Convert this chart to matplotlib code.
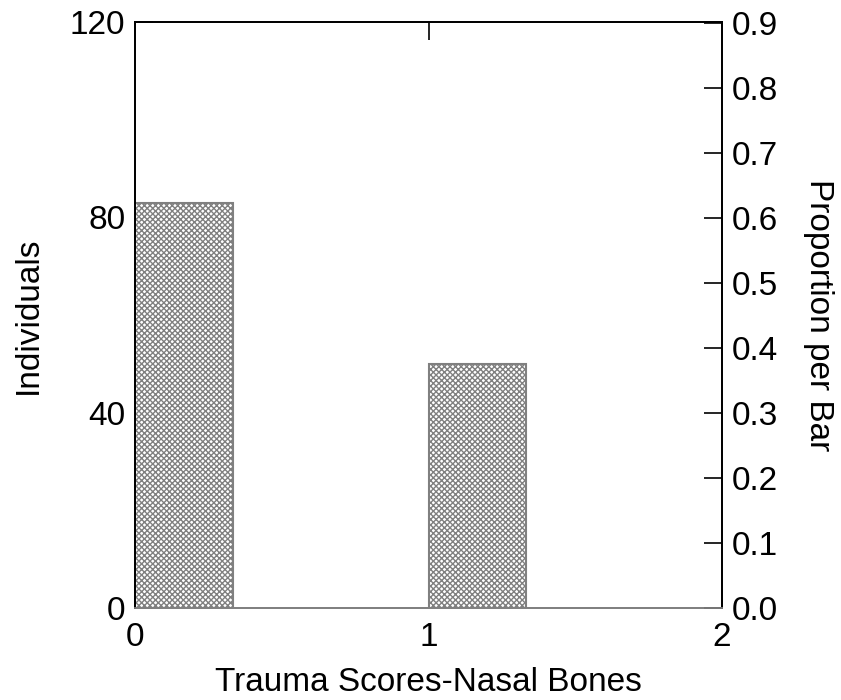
import matplotlib
matplotlib.use("Agg")
import matplotlib.pyplot as plt
import numpy as np

plt.rcParams['font.family'] = ['Liberation Sans', 'DejaVu Sans']
plt.rcParams['hatch.linewidth'] = 1.0

bin_left = [0, 1/3, 2/3, 1, 4/3, 5/3]
counts = [83, 0, 0, 50, 0, 0]
bin_width = 1/3
total = sum(counts)
left_ticks = [0, 40, 80, 120]
right_ticks = [0.0, 0.1, 0.2, 0.3, 0.4, 0.5, 0.6, 0.7, 0.8, 0.9]
x_ticks = [0, 1, 2]

fig = plt.figure(figsize=(8.41, 7.0), dpi=100)
ax = fig.add_axes([135/841, 1 - 608/700, (722-135)/841, (608-22)/700])

plt.rcParams['hatch.color'] = '#808080'
for xl, c in zip(bin_left, counts):
    if c > 0:
        ax.bar(xl, c, width=bin_width, align='edge', facecolor='white',
               edgecolor='#808080', hatch='xxxxxx', linewidth=1.5, zorder=2)

FS = 24
ax.set_xlim(0, 2)
ax.set_ylim(0, 120)
ax.set_xticks(x_ticks)
ax.set_yticks(left_ticks)
ax.tick_params(axis='both', direction='in', length=13, width=1.2, labelsize=FS, pad=7)
ax.tick_params(axis='x', top=True, bottom=True, pad=10)
ax.tick_params(axis='y', left=True, right=False)
for s in ax.spines.values():
    s.set_linewidth(1.3)
ax.spines['bottom'].set_color('#808080')
ax.set_xlabel('Trauma Scores-Nasal Bones', fontsize=FS, labelpad=10)
ax.set_ylabel('Individuals', fontsize=FS, labelpad=19)

ax2 = ax.twinx()
ax2.set_ylim(0, 120 / total)
ax2.set_yticks(right_ticks)
ax2.set_yticklabels([f'{v:.1f}' for v in right_ticks])
ax2.tick_params(axis='y', direction='in', length=13, width=1.2, labelsize=FS, pad=7)
for s in ax2.spines.values():
    s.set_linewidth(1.3)
ax2.spines['bottom'].set_color('#808080')
ax2.set_ylabel('Proportion per Bar', fontsize=FS, rotation=270, labelpad=40)

fig.savefig('out.png', dpi=100)
